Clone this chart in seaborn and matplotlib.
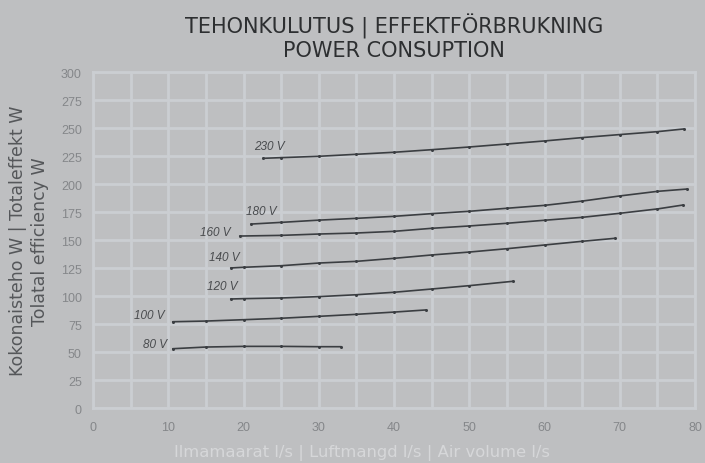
import numpy as np
import pandas as pd
import matplotlib
matplotlib.use("Agg")
import matplotlib.pyplot as plt
import seaborn as sns

# --- data (air volume l/s -> power W) ---
x_230 = [22.6, 25, 30, 35, 40, 45, 50, 55, 60, 65, 70, 75, 78.5]
y_230 = [223.2, 223.8, 225.0, 226.8, 228.6, 230.9, 233.3, 236.0, 238.7, 241.7, 244.4, 247.0, 249.4]

x_180 = [21, 25, 30, 35, 40, 45, 50, 55, 60, 65, 70, 75, 79]
y_180 = [164.5, 166.0, 168.0, 169.6, 171.4, 173.8, 175.9, 178.6, 181.2, 185.0, 189.6, 193.7, 195.8]

x_160 = [19.5, 25, 30, 35, 40, 45, 50, 55, 60, 65, 70, 75, 78.4]
y_160 = [153.8, 154.4, 155.6, 156.5, 158.0, 160.7, 162.8, 165.2, 167.9, 170.5, 174.1, 178.0, 181.5]

x_140 = [18.3, 20, 25, 30, 35, 40, 45, 50, 55, 60, 65, 69.4]
y_140 = [125.3, 125.9, 127.3, 129.7, 131.2, 133.9, 136.9, 139.5, 142.5, 145.8, 149.1, 151.8]

x_120 = [18.3, 20, 25, 30, 35, 40, 45, 50, 55.8]
y_120 = [97.6, 97.9, 98.5, 99.7, 101.4, 103.6, 106.5, 109.5, 113.4]

x_100 = [10.6, 15, 20, 25, 30, 35, 40, 44.2]
y_100 = [77.3, 77.9, 79.1, 80.4, 82.1, 83.9, 85.9, 87.8]

x_80 = [10.6, 15, 20, 25, 30, 33]
y_80 = [53.2, 54.7, 55.3, 55.3, 55.0, 55.0]

voltages = ["230 V", "180 V", "160 V", "140 V", "120 V", "100 V", "80 V"]
label_x = [23.5, 22.4, 16.2, 17.5, 17.2, 7.5, 8.2]
label_y = [234, 176, 157.5, 135, 109, 83, 57.5]

x_ticks = [0, 10, 20, 30, 40, 50, 60, 70, 80]
y_ticks = [0, 25, 50, 75, 100, 125, 150, 175, 200, 225, 250, 275, 300]

series = {
    "230 V": (x_230, y_230), "180 V": (x_180, y_180), "160 V": (x_160, y_160),
    "140 V": (x_140, y_140), "120 V": (x_120, y_120), "100 V": (x_100, y_100),
    "80 V": (x_80, y_80),
}
rows = []
for v, (xs, ys) in series.items():
    for a, b in zip(xs, ys):
        rows.append({"airflow": a, "power": b, "voltage": v})
df = pd.DataFrame(rows)

# --- styling ---
bg = "#bebfc1"
grid_c = "#cbced2"
sns.set_theme(style="white")
plt.rcParams["font.family"] = ["DejaVu Sans"]

fig = plt.figure(figsize=(7.05, 4.64), dpi=100, facecolor=bg)
ax = fig.add_axes([93 / 705, 1 - 409.3 / 464, (695 - 93) / 705, (409.3 - 73.3) / 464])
ax.set_facecolor(bg)

sns.lineplot(data=df, x="airflow", y="power", hue="voltage", units="voltage",
             estimator=None, palette=["#3b3e42"] * len(voltages), linewidth=1.2,
             marker="o", markersize=2.2, markeredgewidth=0, legend=False, ax=ax,
             sort=False, zorder=3)

for v, lx, ly in zip(voltages, label_x, label_y):
    ax.text(lx, ly, v, ha="center", va="center", fontsize=8.5, style="italic",
            color="#494b4e", family=["Liberation Sans", "DejaVu Sans"])

ax.set_xlim(0, 80)
ax.set_ylim(0, 300)
five = np.arange(0, 81, 5)
ax.set_xticks(five)
ax.set_yticks(y_ticks)
ax.set_xticklabels([str(t) if t in x_ticks else "" for t in five])
ax.grid(True, color=grid_c, linewidth=2, zorder=0)
ax.set_axisbelow(True)
for s in ax.spines.values():
    s.set_color(grid_c)
    s.set_linewidth(2)
ax.tick_params(axis="both", length=0, labelsize=9, colors="#85878a", pad=9,
               labelfontfamily="Liberation Sans")
ax.tick_params(axis="y", pad=8)

ax.set_xlabel("Ilmamaarat l/s | Luftmangd l/s | Air volume l/s", fontsize=11.8,
              color="#d6d7d9")
ax.xaxis.set_label_coords((362 - 93) / 602, -0.105)
ax.set_ylabel("Kokonaisteho W | Totaleffekt W\nTolatal efficiency W", fontsize=12.5,
              color="#55575a", linespacing=1.25)
ax.yaxis.set_label_coords((49 - 93) / 602, 0.5)

fig.text(394 / 705, 1 - 26 / 464, "TEHONKULUTUS | EFFEKTFÖRBRUKNING", ha="center",
         va="center", fontsize=15, color="#2d2f31")
fig.text(394 / 705, 1 - 51 / 464, "POWER CONSUPTION", ha="center",
         va="center", fontsize=15, color="#2d2f31")

fig.savefig("out.png", dpi=100, facecolor=bg)
